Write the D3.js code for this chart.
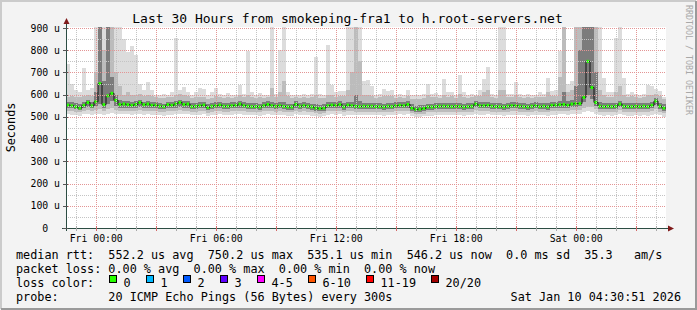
<!DOCTYPE html>
<html>
<head>
<meta charset="utf-8">
<title>smokeping-fra1 to h.root-servers.net</title>
<script src="https://d3js.org/d3.v7.min.js"></script>
<style>
  body { margin: 0; background: #f3f3f3; }
  svg { display: block; }
  text { font-family: "DejaVu Sans Mono", monospace; white-space: pre; }
</style>
</head>
<body>
<div class="box"></div>
<script>
// 30 hours ending Sat Jan 10 04:30:51 2026, one bin every 12 minutes
var startTime = Date.UTC(2026, 0, 8, 22, 30, 51);
var endTime = Date.UTC(2026, 0, 10, 4, 30, 51);
var stepMinutes = 12;

// median rtt per bin (microseconds)
var median = [
  553,550,545,540,552,565,550,568,650,555,595,606,575,556,558,
  555,552,556,565,555,558,552,553,548,546,555,552,558,565,556,
  558,546,548,550,553,542,548,550,553,548,548,550,552,558,550,
  548,546,546,545,550,556,550,548,550,547,545,545,556,548,550,
  548,545,540,538,540,550,553,552,556,545,553,550,548,547,548,
  548,548,546,546,545,548,546,550,552,550,556,540,534,535,538,
  545,545,546,548,548,548,546,548,547,545,546,548,558,550,550,
  552,548,546,546,545,548,550,550,548,546,545,548,550,546,548,
  545,552,553,555,556,552,558,560,560,588,750,632,565,548,546,
  548,546,548,558,548,546,546,548,546,548,546,552,571,548,540
];
// slowest ping of the 20
var pingMax = [
  740,650,620,612,720,620,630,950,950,950,950,950,950,950,850,
  790,820,780,650,620,658,620,598,600,605,600,610,855,620,636,
  610,600,610,630,625,600,612,630,605,600,607,598,600,643,605,
  795,610,600,607,600,598,950,605,800,950,610,600,598,600,605,
  600,605,770,605,600,822,643,610,615,615,950,950,950,950,660,
  665,640,600,605,624,618,620,600,605,600,620,600,598,600,605,
  646,605,606,600,670,610,612,600,690,610,600,605,598,620,670,
  726,605,600,950,950,605,605,658,605,600,605,600,600,610,605,
  677,615,620,795,950,650,660,950,950,950,950,950,950,950,673,
  610,610,853,950,673,605,612,605,600,605,643,640,625,618,590
];
var ping90 = [
  590,592,588,588,595,600,592,700,950,800,950,950,700,640,600,
  610,600,600,605,595,600,592,588,585,585,590,588,600,605,600,
  595,585,588,590,590,582,585,592,590,585,588,585,588,600,588,
  600,588,585,588,585,590,630,588,610,660,592,585,588,585,588,
  585,588,600,585,585,600,598,590,595,592,620,700,950,750,600,
  600,595,585,588,592,592,595,585,588,585,595,582,580,580,585,
  600,588,590,585,600,590,592,585,605,590,585,588,595,592,610,
  620,588,585,620,620,588,590,600,588,585,588,585,588,590,588,
  610,592,595,680,950,610,620,950,950,950,950,950,950,620,600,
  590,588,610,640,600,588,592,588,585,588,598,600,605,595,580
];
var ping75 = [
  566,565,562,560,566,578,566,610,950,660,950,680,600,575,572,
  570,568,570,578,568,572,566,566,562,560,568,566,572,578,570,
  572,562,564,566,568,558,562,566,568,564,564,566,568,572,566,
  564,562,562,560,566,570,566,564,566,566,560,560,570,564,566,
  564,560,556,554,556,566,568,566,570,562,568,566,600,572,564,
  564,564,562,562,560,564,562,566,568,566,570,556,550,552,554,
  560,560,562,564,564,564,562,564,562,560,562,564,572,566,566,
  568,564,562,562,560,564,566,566,564,562,560,564,566,562,564,
  562,568,568,572,610,570,575,640,800,950,950,950,700,565,562,
  564,562,564,572,564,562,562,564,562,564,562,568,585,564,556
];
var ping25 = [
  540,538,534,532,540,545,538,548,560,540,560,570,550,542,542,
  540,538,540,546,540,542,538,538,535,534,540,538,542,546,540,
  542,534,536,538,540,530,536,538,540,536,536,538,540,542,538,
  536,534,534,532,538,542,538,536,538,536,532,532,542,536,538,
  536,532,528,526,528,538,540,538,542,532,540,538,536,534,536,
  536,536,534,534,532,536,534,538,540,538,542,528,522,523,526,
  532,532,534,536,536,536,534,536,535,532,534,536,544,538,538,
  540,536,534,534,532,536,538,538,536,534,532,536,538,534,536,
  532,540,540,542,542,540,544,546,548,565,600,580,550,536,534,
  536,534,536,544,536,534,534,536,534,536,534,540,552,536,528
];
var ping10 = [
  526,525,522,520,526,530,525,530,535,526,535,540,532,528,528,
  526,525,526,530,526,528,525,525,522,521,526,525,528,530,526,
  528,522,523,525,526,518,522,525,526,523,523,525,526,528,525,
  523,522,522,520,525,528,525,523,525,523,520,520,528,523,525,
  523,520,516,515,516,525,526,525,528,520,526,525,523,522,523,
  523,523,522,522,520,523,522,525,526,525,528,516,512,513,515,
  520,520,522,523,523,523,522,523,522,520,522,523,530,525,525,
  526,523,522,522,520,523,525,525,523,522,520,523,525,522,523,
  520,526,526,528,528,526,530,532,532,540,545,545,535,523,522,
  523,522,523,530,523,522,522,523,522,523,522,526,535,523,516
];
// fastest ping of the 20
var pingMin = [
  512,510,508,506,512,515,510,512,515,510,515,518,515,512,512,
  512,510,512,515,510,512,510,510,508,506,510,510,512,515,512,
  512,508,508,510,512,504,508,510,512,508,508,510,512,512,510,
  508,508,508,506,510,512,510,508,510,508,506,506,512,508,510,
  508,506,502,500,502,510,512,510,512,506,510,510,508,508,508,
  508,508,508,508,506,508,508,510,512,510,512,502,498,500,502,
  506,506,508,508,508,508,508,508,508,506,508,508,512,510,510,
  512,508,508,508,506,508,510,510,508,508,506,508,510,508,508,
  506,510,510,512,512,510,514,515,515,520,525,522,512,508,506,
  508,506,508,512,508,506,506,508,506,508,506,510,515,508,500
];

var yTicks = [0, 100, 200, 300, 400, 500, 600, 700, 800, 900];
var yTickLabels = ["0\u00a0\u00a0", "100 u", "200 u", "300 u", "400 u", "500 u", "600 u", "700 u", "800 u", "900 u"];

var lossLabels = ["0", "1", "2", "3", "4-5", "6-10", "11-19", "20/20"];
var lossColors = ["#26ff00", "#00b8ff", "#0059ff", "#5e00ff", "#ff00ff", "#ff5500", "#ff0000", "#a10000"];

var legendLines = [
  "median rtt:  552.2 us avg  750.2 us max  535.1 us min  546.2 us now  0.0 ms sd  35.3   am/s",
  "packet loss: 0.00 % avg  0.00 % max  0.00 % min  0.00 % now",
  "loss color:",
  "probe:       20 ICMP Echo Pings (56 Bytes) every 300s"
];
var stamp = "Sat Jan 10 04:30:51 2026";

var width = 697, height = 310;
// note: "top" is taken by window.top, so the plot edges get their own names
var plotLeft = 66, plotRight = 666, plotTop = 28, plotBottom = 228;

var svg = d3.select("div.box").append("svg")
  .attr("width", width)
  .attr("height", height);

// frame
svg.append("rect").attr("width", width).attr("height", height).attr("fill", "#f3f3f3");
svg.append("path").attr("d", "M1,309 V1 H696").attr("stroke", "#cbcbcb").attr("stroke-width", 2).attr("fill", "none");
svg.append("path").attr("d", "M1,309 H696 V1").attr("stroke", "#9a9a9a").attr("stroke-width", 2).attr("fill", "none");

var x = d3.scaleUtc()
  .domain([new Date(startTime), new Date(endTime)])
  .range([plotLeft, plotRight]);
var y = d3.scaleLinear()
  .domain([0, 900])
  .range([plotBottom, plotTop]);

svg.append("rect")
  .attr("x", plotLeft).attr("y", plotTop - 1)
  .attr("width", plotRight - plotLeft).attr("height", plotBottom - plotTop + 1)
  .attr("fill", "#ffffff");

svg.append("clipPath").attr("id", "plot")
  .append("rect")
  .attr("x", plotLeft).attr("y", plotTop - 1)
  .attr("width", plotRight - plotLeft).attr("height", plotBottom - plotTop + 1);

function binTime(i) {
  return new Date(startTime + i * stepMinutes * 60000);
}

var bins = d3.range(median.length);
var plot = svg.append("g").attr("clip-path", "url(#plot)");

// smoke: outer to inner
var layers = [
  { lo: pingMin, hi: pingMax, color: "#dcdcdc" },
  { lo: ping10, hi: ping90, color: "#bcbcbc" },
  { lo: ping25, hi: ping75, color: "#7c7c7c" }
];
layers.forEach(function(layer) {
  plot.append("g").selectAll("rect")
    .data(bins)
    .enter()
    .append("rect")
    .attr("x", function(i) { return x(binTime(i)); })
    .attr("width", function(i) { return x(binTime(i + 1)) - x(binTime(i)); })
    .attr("y", function(i) { return y(layer.hi[i]); })
    .attr("height", function(i) { return y(layer.lo[i]) - y(layer.hi[i]); })
    .attr("fill", layer.color)
    .attr("shape-rendering", "crispEdges");
});

// grid on top of the smoke
var minorX = x.ticks(d3.utcHour.every(1));
var majorX = x.ticks(d3.utcHour.every(3));
var labelX = x.ticks(d3.utcHour.every(6));
var minorY = y.ticks(18).filter(function(v) { return v > 0; });
var majorY = yTicks.filter(function(v) { return v > 0; });

var grid = svg.append("g").attr("fill", "none").attr("stroke-width", 1).attr("stroke-dasharray", "1,1");
grid.selectAll("line.vx")
  .data(minorX)
  .enter().append("line")
  .attr("x1", function(d) { return Math.round(x(d)) + 0.5; })
  .attr("x2", function(d) { return Math.round(x(d)) + 0.5; })
  .attr("y1", plotTop).attr("y2", plotBottom)
  .attr("stroke", "#c4c4c4");
grid.selectAll("line.hy")
  .data(minorY)
  .enter().append("line")
  .attr("y1", function(d) { return Math.round(y(d)) + 0.5; })
  .attr("y2", function(d) { return Math.round(y(d)) + 0.5; })
  .attr("x1", plotLeft).attr("x2", plotRight)
  .attr("stroke", "#c4c4c4");
grid.selectAll("line.mx")
  .data(majorX)
  .enter().append("line")
  .attr("x1", function(d) { return Math.round(x(d)) + 0.5; })
  .attr("x2", function(d) { return Math.round(x(d)) + 0.5; })
  .attr("y1", plotTop).attr("y2", plotBottom)
  .attr("stroke", "#e39595");
grid.selectAll("line.my")
  .data(majorY)
  .enter().append("line")
  .attr("y1", function(d) { return Math.round(y(d)) + 0.5; })
  .attr("y2", function(d) { return Math.round(y(d)) + 0.5; })
  .attr("x1", plotLeft).attr("x2", plotRight)
  .attr("stroke", "#e39595");

// median: dark steps with green segments
var stepLine = d3.line()
  .x(function(i) { return x(binTime(i)); })
  .y(function(i) { return y(median[Math.min(i, median.length - 1)]); })
  .curve(d3.curveStepAfter);
plot.append("path")
  .attr("d", stepLine(d3.range(median.length + 1)))
  .attr("fill", "none")
  .attr("stroke", "#111")
  .attr("stroke-width", 1);
plot.append("g").selectAll("line")
  .data(bins)
  .enter()
  .append("line")
  .attr("x1", function(i) { return x(binTime(i)) + 0.5; })
  .attr("x2", function(i) { return x(binTime(i + 1)) - 0.8; })
  .attr("y1", function(i) { return y(median[i]); })
  .attr("y2", function(i) { return y(median[i]); })
  .attr("stroke", lossColors[0])
  .attr("stroke-width", 3);

// axes
var axisColor = "#2c4d43", arrowColor = "#7f1a1a";
svg.append("line")
  .attr("x1", plotLeft + 0.5).attr("x2", plotLeft + 0.5)
  .attr("y1", plotBottom + 3).attr("y2", plotTop - 5)
  .attr("stroke", axisColor);
svg.append("line")
  .attr("x1", plotLeft - 4).attr("x2", plotRight + 3)
  .attr("y1", plotBottom + 0.5).attr("y2", plotBottom + 0.5)
  .attr("stroke", axisColor);
svg.append("path")
  .attr("d", "M" + (plotLeft - 2.5) + "," + (plotTop - 4) + " L" + (plotLeft + 0.5) + "," + (plotTop - 10) + " L" + (plotLeft + 3.5) + "," + (plotTop - 4) + "Z")
  .attr("fill", arrowColor);
svg.append("path")
  .attr("d", "M" + (plotRight + 2) + "," + (plotBottom - 2.5) + " L" + (plotRight + 8) + "," + (plotBottom + 0.5) + " L" + (plotRight + 2) + "," + (plotBottom + 3.5) + "Z")
  .attr("fill", arrowColor);

// axis ticks
svg.append("g").selectAll("line")
  .data(minorX)
  .enter().append("line")
  .attr("x1", function(d) { return Math.round(x(d)) + 0.5; })
  .attr("x2", function(d) { return Math.round(x(d)) + 0.5; })
  .attr("y1", plotBottom - 2).attr("y2", plotBottom + 3)
  .attr("stroke", function(d) { return d.getUTCHours() % 3 === 0 ? "#d46a6a" : "#a8a8a8"; });
svg.append("g").selectAll("line")
  .data(yTicks)
  .enter().append("line")
  .attr("x1", plotLeft - 3).attr("x2", plotLeft + 2)
  .attr("y1", function(d) { return Math.round(y(d)) + 0.5; })
  .attr("y2", function(d) { return Math.round(y(d)) + 0.5; })
  .attr("stroke", "#555");

// tick labels
svg.append("g").selectAll("text")
  .data(yTicks)
  .enter().append("text")
  .attr("x", 60)
  .attr("y", function(d) { return y(d) + 3.6; })
  .attr("text-anchor", "end")
  .attr("font-size", "9.8px")
  .attr("fill", "#000")
  .text(function(d, i) { return yTickLabels[i]; });

var fmt = d3.utcFormat("%a %H:%M");
svg.append("g").selectAll("text")
  .data(labelX)
  .enter().append("text")
  .attr("x", function(d) { return x(d) + 0.5; })
  .attr("y", 241.6)
  .attr("text-anchor", "middle")
  .attr("font-size", "9.8px")
  .attr("fill", "#000")
  .text(function(d) { return fmt(d); });

// titles
svg.append("text")
  .attr("x", 347.5).attr("y", 22.6)
  .attr("text-anchor", "middle")
  .attr("font-size", "13px")
  .attr("fill", "#000")
  .text("Last 30 Hours from smokeping-fra1 to h.root-servers.net");

svg.append("text")
  .attr("transform", "translate(14.5,127.5) rotate(-90)")
  .attr("text-anchor", "middle")
  .attr("font-size", "11.8px")
  .attr("fill", "#000")
  .text("Seconds");

svg.append("text")
  .attr("transform", "translate(685.5,5) rotate(90)")
  .attr("font-size", "8.3px")
  .attr("fill", "#a8a8a8")
  .text("RRDTOOL / TOBI OETIKER");

// legend
var legendY = [258.5, 272.5, 286.5, 300.5];
svg.append("g").selectAll("text")
  .data(legendLines)
  .enter().append("text")
  .attr("x", 16)
  .attr("y", function(d, i) { return legendY[i]; })
  .attr("font-size", "11.8px")
  .attr("fill", "#000")
  .text(function(d) { return d; });

svg.append("text")
  .attr("x", 681).attr("y", legendY[3])
  .attr("text-anchor", "end")
  .attr("font-size", "11.8px")
  .attr("fill", "#000")
  .text(stamp);

var cw = 7;
var boxX = [];
var bx = 109;
lossLabels.forEach(function(l) {
  boxX.push(bx);
  bx = bx + 14.5 + l.length * cw + 15.5;
});
var lossItems = svg.append("g").selectAll("g")
  .data(lossLabels)
  .enter().append("g");
lossItems.append("rect")
  .attr("x", function(d, i) { return boxX[i] + 0.5; })
  .attr("y", 275.5)
  .attr("width", 7).attr("height", 7)
  .attr("fill", function(d, i) { return lossColors[i]; })
  .attr("stroke", "#000");
lossItems.append("text")
  .attr("x", function(d, i) { return boxX[i] + 14.5; })
  .attr("y", legendY[2])
  .attr("font-size", "11.8px")
  .attr("fill", "#000")
  .text(function(d) { return d; });
</script>
</body>
</html>
